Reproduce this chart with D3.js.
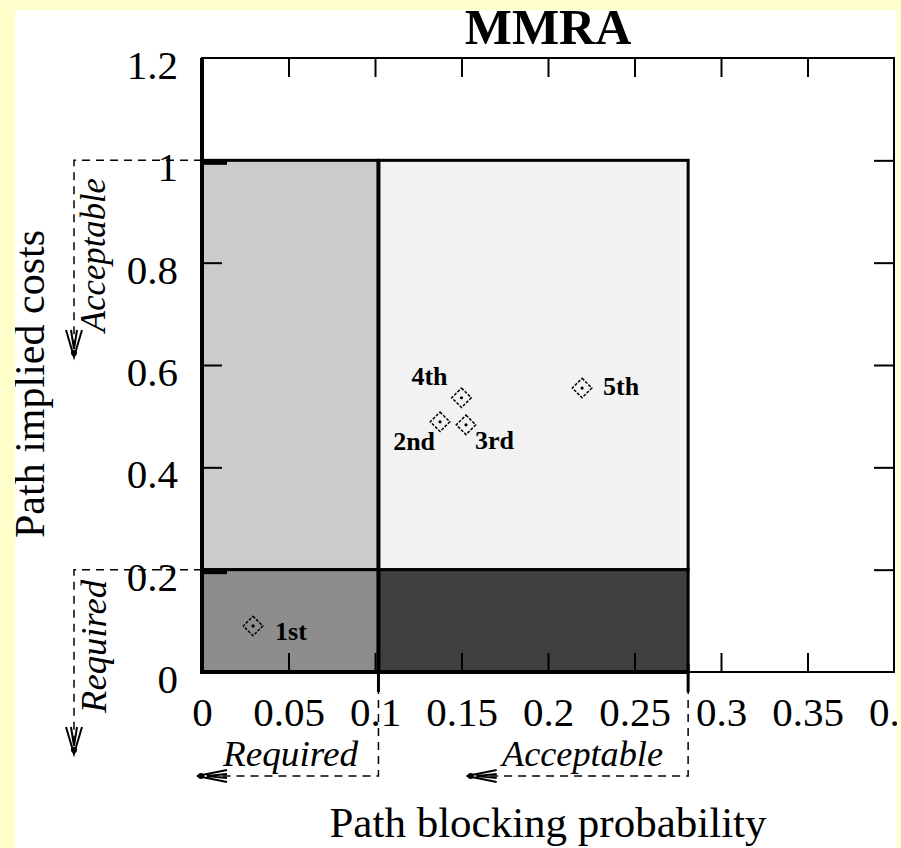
<!DOCTYPE html>
<html>
<head>
<meta charset="utf-8">
<script src="https://cdn.jsdelivr.net/npm/d3@7"></script>
<style>
	body { margin: 0; background: #ffffcc; }
	text { font-family: "Liberation Serif", "DejaVu Serif", serif; }
</style>
</head>
<body>
<div id="chart"></div>
<script>
// tick values
var xTickValues = [0, 0.05, 0.1, 0.15, 0.2, 0.25, 0.3, 0.35, 0.4];
var yTickValues = [0, 0.2, 0.4, 0.6, 0.8, 1, 1.2];

// requirement thresholds
var blockRequired = 0.102;
var blockAcceptable = 0.281;
var costRequired = 0.2;
var costAcceptable = 1.0;

// zones
var zoneNames = ["costOkBlockReq", "costOkBlockOk", "bothReq", "costReqBlockOk"];
var zoneX0 = [0, blockRequired, 0, blockRequired];
var zoneX1 = [blockRequired, blockAcceptable, blockRequired, blockAcceptable];
var zoneY0 = [costRequired, costRequired, 0, 0];
var zoneY1 = [costAcceptable, costAcceptable, costRequired, costRequired];

// paths
var pathLabels = ["1st", "2nd", "3rd", "4th", "5th"];
var pathBlocking = [0.0295, 0.1376, 0.1526, 0.150, 0.2197];
var pathCost = [0.090, 0.489, 0.483, 0.536, 0.555];

var zoneFill = {
	costOkBlockReq: "#cbcbcb",
	costOkBlockOk: "#f2f2f2",
	bothReq: "#8d8d8d",
	costReqBlockOk: "#404040"
};
// label offsets from the marker [dx, dy, anchor]
var labelPlace = {
	"1st": [22, 14, "start"],
	"2nd": [-5, 28, "end"],
	"3rd": [9, 24, "start"],
	"4th": [-14, -13, "end"],
	"5th": [21, 7, "start"]
};

var width = 901, height = 848;

var x = d3.scaleLinear().domain([0, 0.4]).range([202, 894]);
var y = d3.scaleLinear().domain([0, 1.2]).range([672, 58]);

var svg = d3.select("#chart").append("svg")
	.attr("width", width)
	.attr("height", height);

svg.append("clipPath").attr("id", "panel")
	.append("rect").attr("x", 15).attr("y", 10).attr("width", 882).attr("height", 838);

svg.append("rect")
	.attr("x", 15).attr("y", 10).attr("width", 882).attr("height", 838)
	.style("fill", "#ffffff");

var g = svg.append("g").attr("clip-path", "url(#panel)");

// zones
g.selectAll("rect.zone")
	.data(zoneNames)
	.enter().append("rect")
	.attr("class", "zone")
	.attr("x", function(d, i) { return x(zoneX0[i]); })
	.attr("y", function(d, i) { return y(zoneY1[i]); })
	.attr("width", function(d, i) { return x(zoneX1[i]) - x(zoneX0[i]); })
	.attr("height", function(d, i) { return y(zoneY0[i]) - y(zoneY1[i]); })
	.style("fill", function(d) { return zoneFill[d]; })
	.style("stroke", "#000")
	.style("stroke-width", 3);

g.append("line")
	.attr("x1", x(blockRequired)).attr("x2", x(blockRequired))
	.attr("y1", y(costAcceptable)).attr("y2", y(0))
	.style("stroke", "#000").style("stroke-width", 4);

// frame
g.append("rect")
	.attr("x", x(0)).attr("y", y(1.2))
	.attr("width", x(0.4) - x(0)).attr("height", y(0) - y(1.2))
	.style("fill", "none").style("stroke", "#000").style("stroke-width", 2);
g.append("path")
	.attr("d", "M" + x(0) + "," + y(1.2) + "V" + y(0) + "H" + x(blockAcceptable))
	.style("fill", "none").style("stroke", "#000").style("stroke-width", 4);

// axes, ticks pointing inward
var inner = xTickValues.slice(1, -1);
var innerY = yTickValues.slice(1, -1);

var xAxis = g.append("g")
	.attr("transform", "translate(0," + y(0) + ")")
	.call(d3.axisBottom(x).tickValues(xTickValues).tickSize(0).tickPadding(25)
		.tickFormat(function(d) { return String(d); }));
xAxis.select(".domain").remove();
xAxis.selectAll("text").style("font-size", "41px").attr("fill", "#000");

var xTicks = g.append("g")
	.attr("transform", "translate(0," + y(0) + ")")
	.call(d3.axisBottom(x).tickValues(inner).tickSize(-19).tickFormat(""));
var xTicksTop = g.append("g")
	.attr("transform", "translate(0," + y(1.2) + ")")
	.call(d3.axisTop(x).tickValues(inner).tickSize(-19).tickFormat(""));

var yAxis = g.append("g")
	.attr("transform", "translate(" + x(0) + ",0)")
	.call(d3.axisLeft(y).tickValues(yTickValues).tickSize(0).tickPadding(24)
		.tickFormat(function(d) { return String(d); }));
yAxis.select(".domain").remove();
yAxis.selectAll("text").style("font-size", "41px").attr("dy", "0.5em").attr("fill", "#000");

var yTicks = g.append("g")
	.attr("transform", "translate(" + x(0) + ",0)")
	.call(d3.axisLeft(y).tickValues(innerY).tickSize(-20).tickFormat(""));
var yTicksRight = g.append("g")
	.attr("transform", "translate(" + x(0.4) + ",0)")
	.call(d3.axisRight(y).tickValues(innerY).tickSize(-20).tickFormat(""));

[xTicks, xTicksTop, yTicks, yTicksRight].forEach(function(a) {
	a.select(".domain").remove();
	a.selectAll("line").style("stroke", "#000").style("stroke-width", 2);
});
// heavier ticks where the zone edges meet the axis
yTicks.selectAll(".tick")
	.filter(function(d) { return d == costRequired || d == costAcceptable; })
	.select("line").style("stroke-width", 4).attr("x2", 25).attr("transform", "translate(0,2)");

// dashed requirement brackets with arrows
function arrowHead(px, py, dir) {
	// dir: "left" or "down"
	var p;
	if (dir == "left") {
		p = "M" + (px + 30) + "," + (py - 6) + "L" + px + "," + py + "L" + (px + 30) + "," + (py + 6) +
			"M" + (px + 30) + "," + (py - 2) + "L" + (px + 10) + "," + py + "L" + (px + 30) + "," + (py + 2);
	} else {
		p = "M" + (px - 8) + "," + (py - 27) + "L" + px + "," + py + "L" + (px + 8) + "," + (py - 27) +
			"M" + (px - 3) + "," + (py - 27) + "L" + px + "," + (py - 8) + "L" + (px + 3) + "," + (py - 27);
	}
	g.append("path").attr("d", p)
		.style("fill", "none").style("stroke", "#000").style("stroke-width", 2);
	g.append("circle").attr("cx", px + (dir == "left" ? 4 : 0)).attr("cy", py - (dir == "left" ? 0 : 4))
		.attr("r", 3).style("fill", "#000");
}

function dashed(d) {
	g.append("path").attr("d", d)
		.style("fill", "none").style("stroke", "#000")
		.style("stroke-width", 1.5).style("stroke-dasharray", "8,6");
}

var bracketY = 776, bracketX = 74;

dashed("M" + x(blockRequired) + "," + y(0) + "V" + bracketY + "H" + (x(0) - 4));
arrowHead(x(0) - 5, bracketY, "left");
dashed("M" + x(blockAcceptable) + "," + y(0) + "V" + bracketY + "H" + (x(0.153) + 2));
arrowHead(x(0.153), bracketY, "left");
// solid stubs under the axis where the brackets start
[blockRequired, blockAcceptable].forEach(function(v) {
	g.append("line")
		.attr("x1", x(v)).attr("x2", x(v)).attr("y1", y(0) - 8).attr("y2", y(0) + 20)
		.style("stroke", "#000").style("stroke-width", 3);
});

dashed("M" + x(0) + "," + y(costAcceptable) + "H" + bracketX + "V" + 355);
arrowHead(bracketX, 357, "down");
dashed("M" + x(0) + "," + y(costRequired) + "H" + bracketX + "V" + 752);
arrowHead(bracketX, 754, "down");

function italicLabel(txt, tx, ty, len, rotate) {
	g.append("text")
		.attr("transform", "translate(" + tx + "," + ty + ")" + (rotate ? " rotate(-90)" : ""))
		.attr("textLength", len)
		.attr("lengthAdjust", "spacingAndGlyphs")
		.style("font-size", "35px")
		.style("font-style", "italic")
		.text(txt);
}
italicLabel("Required", 223, 766, 135, false);
italicLabel("Acceptable", 502, 766, 161, false);
italicLabel("Acceptable", 105, 332, 154, true);
italicLabel("Required", 106, 713, 133, true);

// path markers
var pts = g.selectAll("g.path-pt")
	.data(pathLabels)
	.enter().append("g")
	.attr("class", "path-pt")
	.attr("transform", function(d, i) {
		return "translate(" + x(pathBlocking[i]) + "," + y(pathCost[i]) + ")";
	});

pts.append("path")
	.attr("d", d3.symbol().type(d3.symbolSquare).size(190))
	.attr("transform", "rotate(45)")
	.style("fill", "none")
	.style("stroke", "#000")
	.style("stroke-width", 1.5)
	.style("stroke-dasharray", "3,1.5");
pts.append("circle").attr("r", 1.6).style("fill", "#000");

pts.append("text")
	.attr("x", function(d) { return labelPlace[d][0]; })
	.attr("y", function(d) { return labelPlace[d][1]; })
	.attr("text-anchor", function(d) { return labelPlace[d][2]; })
	.style("font-size", "26px")
	.style("font-weight", "bold")
	.text(function(d) { return d; });

// titles
g.append("text")
	.attr("x", 548).attr("y", 44)
	.attr("text-anchor", "middle")
	.style("font-size", "50px")
	.style("font-weight", "bold")
	.text("MMRA");

g.append("text")
	.attr("x", 548).attr("y", 837)
	.attr("text-anchor", "middle")
	.style("font-size", "43px")
	.text("Path blocking probability");

g.append("text")
	.attr("transform", "translate(44,384) rotate(-90)")
	.attr("text-anchor", "middle")
	.style("font-size", "42px")
	.text("Path implied costs");
</script>
</body>
</html>
